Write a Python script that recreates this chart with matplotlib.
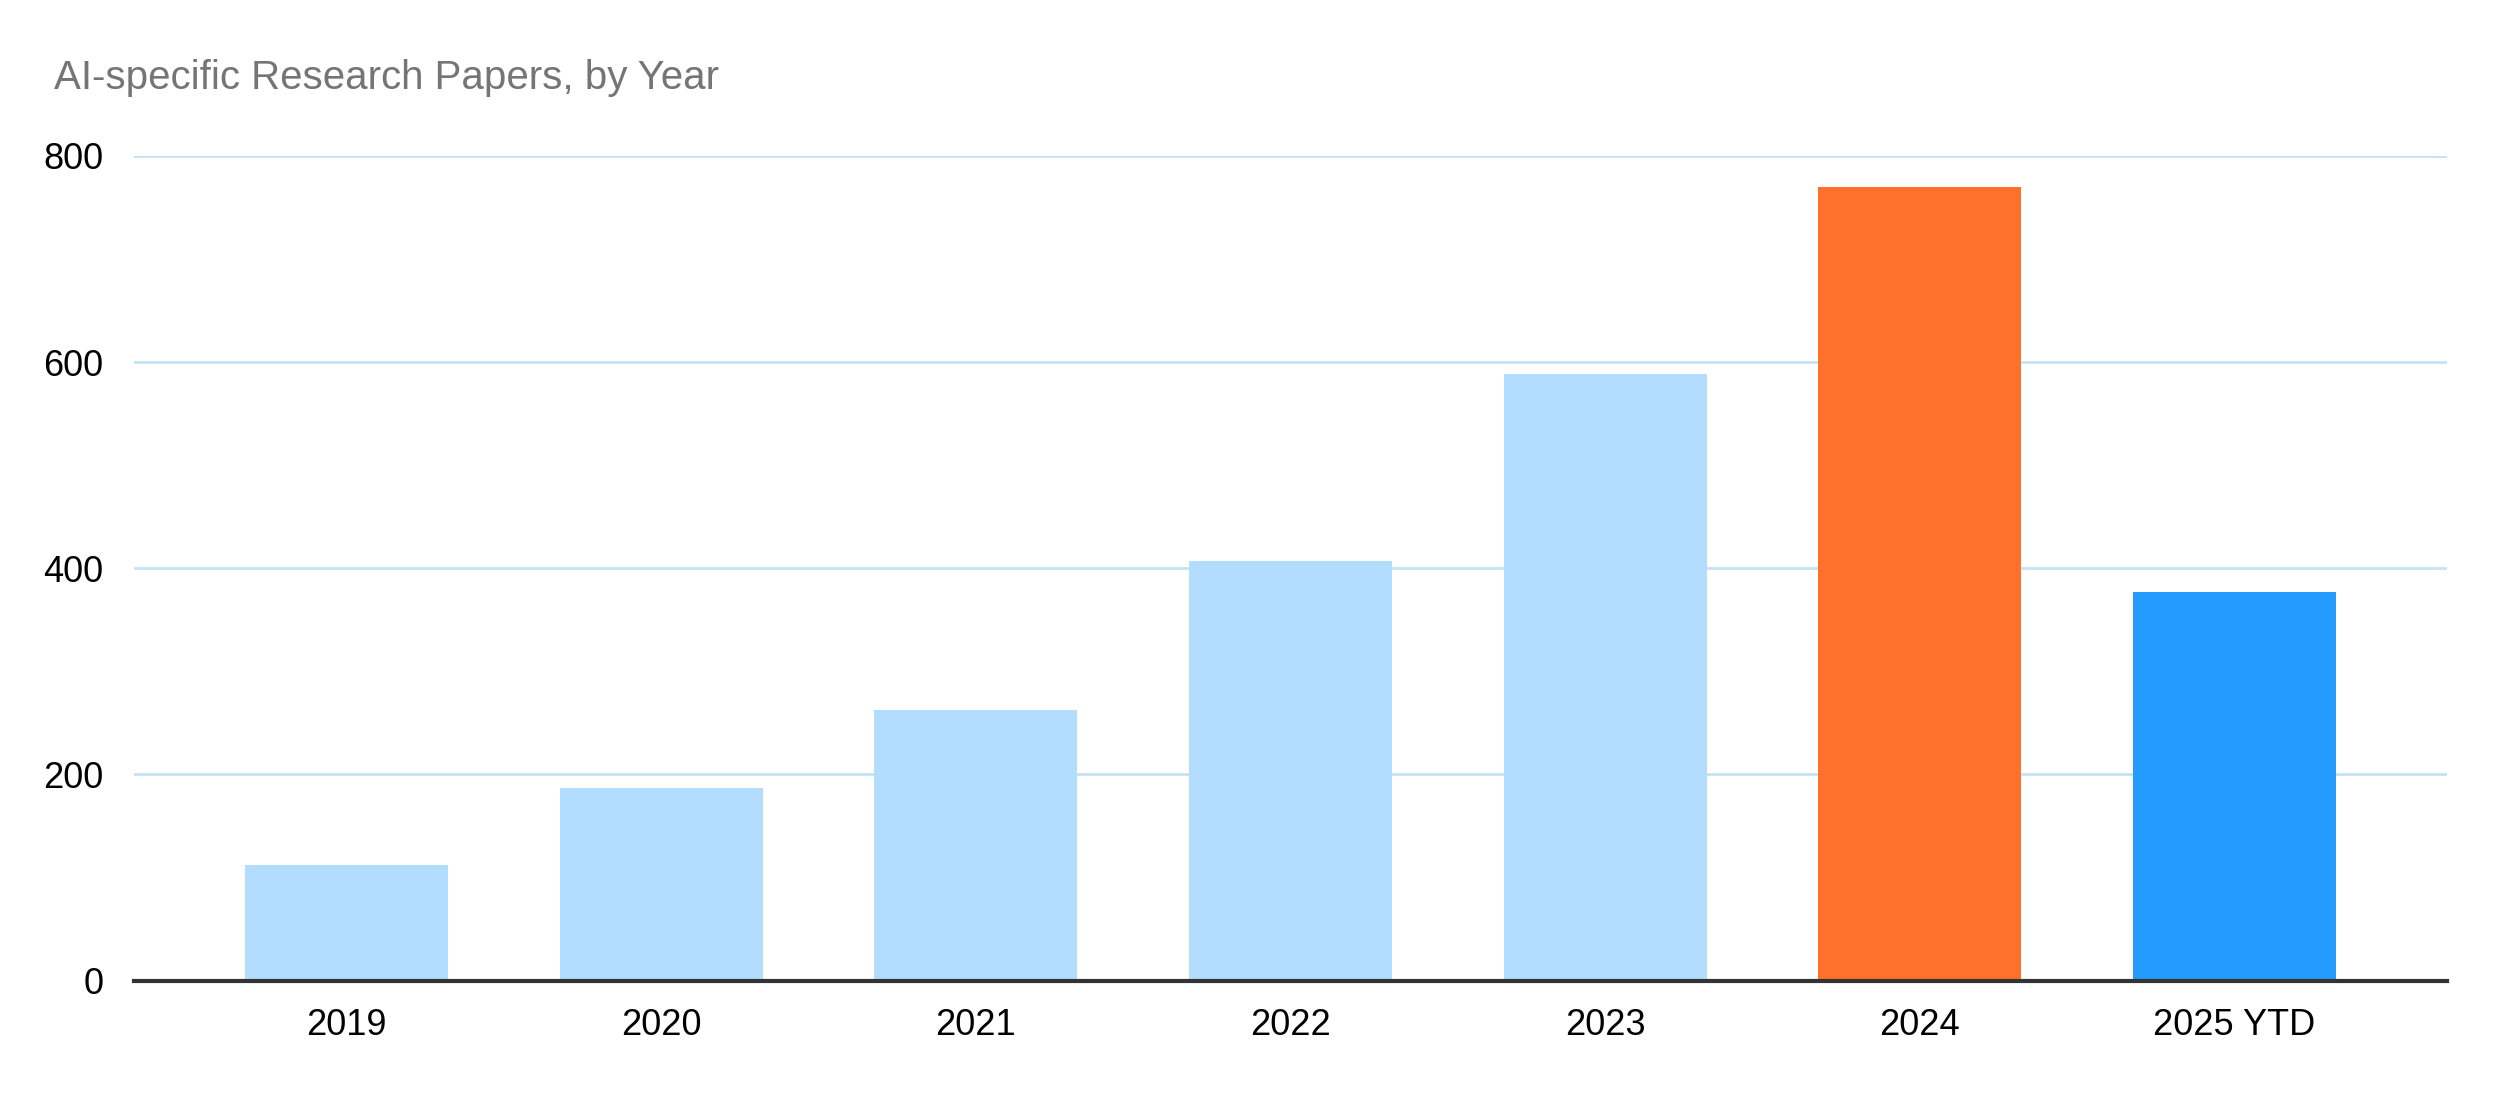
import matplotlib
matplotlib.use('Agg')
import matplotlib.pyplot as plt

years = ['2019', '2020', '2021', '2022', '2023', '2024', '2025 YTD']
papers = [112, 187, 262, 407, 588, 770, 377]
bar_colors = ['#b3ddfe', '#b3ddfe', '#b3ddfe', '#b3ddfe', '#b3ddfe', '#ff712b', '#249cff']
yticks = [0, 200, 400, 600, 800]

plt.rcParams['font.family'] = ['Liberation Sans', 'DejaVu Sans']

fig = plt.figure(figsize=(25, 10.93), dpi=100)
ax = fig.add_axes([0.0536, 0.1029, 0.9252, 0.7544])

x = range(len(years))
ax.bar(x, papers, width=0.645, color=bar_colors, zorder=3)

ax.set_xlim(-0.675, len(years) - 1 + 0.675)
ax.set_ylim(0, 800)
ax.set_yticks(yticks)
ax.set_xticks(list(x))
ax.set_xticklabels(years)
ax.tick_params(axis='both', length=0, labelsize=26, colors='#000000')
ax.tick_params(axis='y', pad=22)
ax.tick_params(axis='x', pad=20)

ax.grid(axis='y', color='#c4e2f4', linewidth=2, zorder=0)
for side in ['top', 'right', 'left']:
    ax.spines[side].set_visible(False)
ax.spines['bottom'].set_color('#333333')
ax.spines['bottom'].set_linewidth(3)
ax.spines['bottom'].set_zorder(4)

fig.text(54 / 2500, 1 - 78 / 1093, 'AI-specific Research Papers, by Year',
         fontsize=29, color='#757575', va='center', ha='left')

fig.savefig('out.png', dpi=100)
